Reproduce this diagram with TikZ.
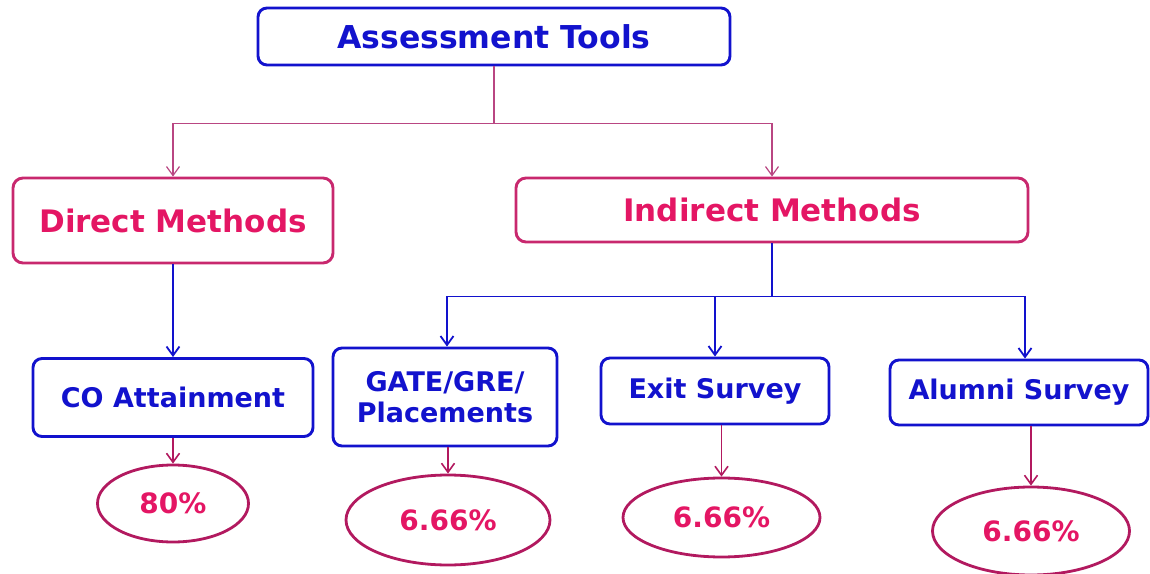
\documentclass[tikz,border=0pt]{standalone}
\usepackage{fontspec}
\setmainfont{DejaVu Sans}
\usetikzlibrary{positioning}
\usetikzlibrary{shapes.geometric}
\usetikzlibrary{arrows.meta}
\definecolor{toolblue}{RGB}{18,18,205}
\definecolor{methodpink}{RGB}{228,22,100}
\definecolor{methodframe}{RGB}{200,40,110}
\definecolor{shareframe}{RGB}{178,25,95}
\definecolor{linkpink}{RGB}{185,70,130}
\tikzset{
    toolbox/.style = {rectangle,rounded corners=9pt,draw=toolblue,line width=2.9pt,
        text=toolblue,font=\bfseries\fontsize{27}{31}\selectfont,align=center},
    methodbox/.style = {rectangle,rounded corners=10pt,draw=methodframe,line width=2.9pt,
        text=methodpink,font=\bfseries\fontsize{31}{36}\selectfont},
    share/.style = {ellipse,draw=shareframe,line width=2.8pt,inner sep=0pt,
        text=methodpink,font=\bfseries\fontsize{28}{32}\selectfont}}

\begin{document}
\begin{tikzpicture}[x=1pt,y=1pt,on grid,
    >={Straight Barb[length=9pt,width=13pt]},
    toplink/.style={->,draw=linkpink,line width=1.2pt},
    bluelink/.style={->,draw=toolblue,line width=1.8pt},
    sharelink/.style={->,draw=shareframe,line width=1.6pt}
    ]
    \useasboundingbox (0,0) rectangle (1150,573);
    % top level
    \node (tools) [toolbox,font=\bfseries\fontsize{31.5}{36}\selectfont,
        minimum width=472pt,minimum height=57pt] at (494,536.5) {Assessment Tools};
    \node (direct) [methodbox,minimum width=320pt,minimum height=85pt,
        below left = 184pt and 321pt of tools] {Direct Methods};
    \node (indirect) [methodbox,minimum width=512pt,minimum height=64pt,
        below right = 173.5pt and 278pt of tools] {Indirect Methods};
    % tools
    \node (co) [toolbox,minimum width=280pt,minimum height=78pt,
        below = 177pt of direct] {CO Attainment};
    \node (gate) [toolbox,minimum width=224pt,minimum height=98pt,
        below left = 187pt and 327pt of indirect] {GATE/GRE/\\Placements};
    \node (exit) [toolbox,minimum width=228pt,minimum height=66pt,
        below left = 181pt and 57pt of indirect] {Exit Survey};
    \node (alumni) [toolbox,minimum width=258pt,minimum height=65pt,
        below right = 182.5pt and 247pt of indirect] {Alumni Survey};
    % weights
    \node (wco) [share,minimum width=151pt,minimum height=77pt,
        below = 106pt of co] {80\%};
    \node (wgate) [share,minimum width=204pt,minimum height=90pt,
        below right = 123pt and 3pt of gate] {6.66\%};
    \node (wexit) [share,minimum width=197pt,minimum height=79pt,
        below right = 126.5pt and 6.5pt of exit] {6.66\%};
    \node (walumni) [share,minimum width=197pt,minimum height=88pt,
        below right = 138.5pt and 12pt of alumni] {6.66\%};
    % links
    \draw[toplink] (tools.south) -- ++(0,-57) -| (direct.north);
    \draw[toplink] (tools.south) -- ++(0,-57) -| (indirect.north);
    \draw[bluelink] (direct.south) -- (co.north);
    \coordinate (split) at ([yshift=-53pt]indirect.south);
    \draw[bluelink] (indirect.south) -- (split) -| ([xshift=2pt]gate.north);
    \draw[bluelink] (split) -| (exit.north);
    \draw[bluelink] (split) -| ([xshift=6pt]alumni.north);
    \draw[sharelink] (co.south) -- (wco.north);
    \draw[sharelink] ([xshift=3pt]gate.south) -- (wgate.north);
    \draw[sharelink] ([xshift=6.5pt]exit.south) -- (wexit.north);
    \draw[sharelink] ([xshift=12pt]alumni.south) -- (walumni.north);
\end{tikzpicture}
\end{document}
